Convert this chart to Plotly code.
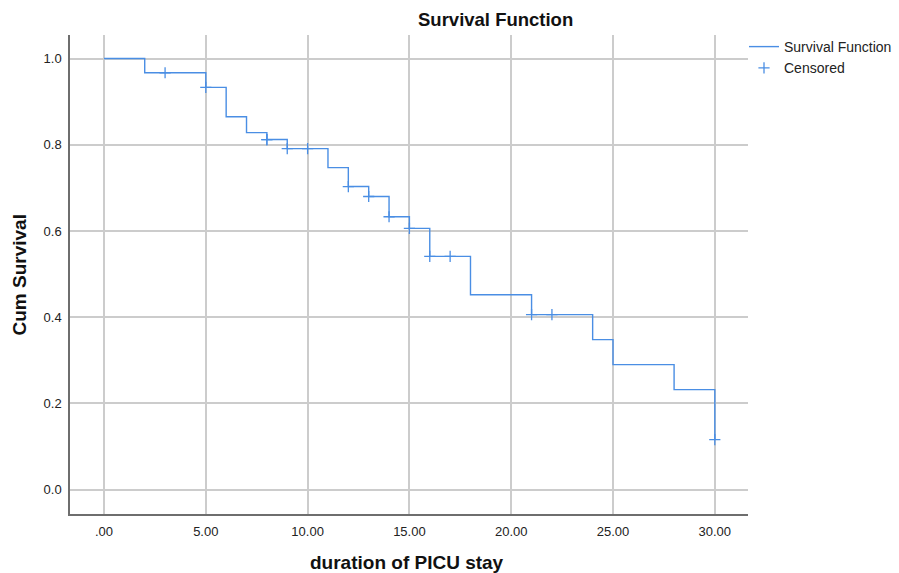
import plotly.graph_objects as go

# Kaplan-Meier step data
step_time = [0, 2, 5, 6, 7, 8, 9, 11, 12, 13, 14, 15, 16, 18, 21, 24, 25, 28, 30]
step_surv = [1.0, 0.967, 0.933, 0.865, 0.828, 0.812, 0.791, 0.747, 0.703, 0.680,
             0.633, 0.606, 0.541, 0.452, 0.406, 0.348, 0.290, 0.232, 0.116]

censor_time = [3, 5, 8, 8, 9, 10, 12, 13, 14, 15, 16, 17, 21, 22, 30]
censor_surv = [0.967, 0.933, 0.812, 0.812, 0.791, 0.791, 0.703, 0.680, 0.633,
               0.606, 0.541, 0.541, 0.406, 0.406, 0.116]

x_ticks = [0, 5, 10, 15, 20, 25, 30]
x_tick_labels = [".00", "5.00", "10.00", "15.00", "20.00", "25.00", "30.00"]
y_ticks = [0.0, 0.2, 0.4, 0.6, 0.8, 1.0]
y_tick_labels = ["0.0", "0.2", "0.4", "0.6", "0.8", "1.0"]

BLUE = "#4a8ee4"
FONT = "Liberation Sans, Arial, sans-serif"
W, H = 899, 573
PW, PH = W - 70 - 151, H - 35 - 59

fig = go.Figure()
fig.add_trace(go.Scatter(
    x=step_time, y=step_surv, mode="lines", line_shape="hv",
    line=dict(color=BLUE, width=1.4), name="Survival Function",
))
fig.add_trace(go.Scatter(
    x=censor_time, y=censor_surv, mode="markers",
    marker=dict(symbol="cross-thin", size=8, line=dict(color=BLUE, width=1.3), color=BLUE),
    name="Censored",
))

fig.update_layout(
    width=W, height=H,
    margin=dict(l=70, r=151, t=35, b=59, autoexpand=False),
    paper_bgcolor="white", plot_bgcolor="white",
    font=dict(family=FONT, color="#222222", size=13),
    showlegend=True,
    legend=dict(x=1.0 - 4 / PW, y=1.0 + 4 / PH, xanchor="left", yanchor="top",
                font=dict(size=14, family=FONT, color="#222222"),
                bgcolor="rgba(0,0,0,0)", tracegroupgap=0, itemwidth=30),
    annotations=[
        dict(text="<b>Survival Function</b>", xref="paper", yref="paper",
             x=(495 - 70) / PW, y=1 + 16 / PH, xanchor="center", yanchor="middle",
             showarrow=False, font=dict(size=18.5, family=FONT, color="#111111")),
        dict(text="<b>Cum Survival</b>", xref="paper", yref="paper",
             x=-(70 - 19) / PW, y=0.5, xanchor="center", yanchor="middle",
             textangle=-90, showarrow=False, font=dict(size=19, family=FONT, color="#111111")),
        dict(text="<b>duration of PICU stay</b>", xref="paper", yref="paper",
             x=(407 - 70) / PW, y=-(562 - 514) / PH, xanchor="center", yanchor="middle",
             showarrow=False, font=dict(size=19, family=FONT, color="#111111")),
    ],
)
fig.update_xaxes(
    range=[-1.67, 31.63], tickvals=x_ticks, ticktext=x_tick_labels,
    showgrid=True, gridcolor="#cccccc", gridwidth=1.5,
    showline=True, linecolor="#6e6e6e", linewidth=1.5,
    zeroline=False, ticks="", tickfont=dict(size=13, color="#222222"),
    ticklabelstandoff=5, automargin=False,
)
fig.update_yaxes(
    range=[-0.0564, 1.0545], tickvals=y_ticks, ticktext=y_tick_labels,
    showgrid=True, gridcolor="#cccccc", gridwidth=1.5,
    showline=True, linecolor="#6e6e6e", linewidth=1.5,
    zeroline=False, ticks="", tickfont=dict(size=13, color="#222222"),
    ticklabelstandoff=4, automargin=False,
)

fig.write_html("out.html", config={"displayModeBar": False},
               post_script="document.body.style.margin='0';document.body.style.padding='0';")
